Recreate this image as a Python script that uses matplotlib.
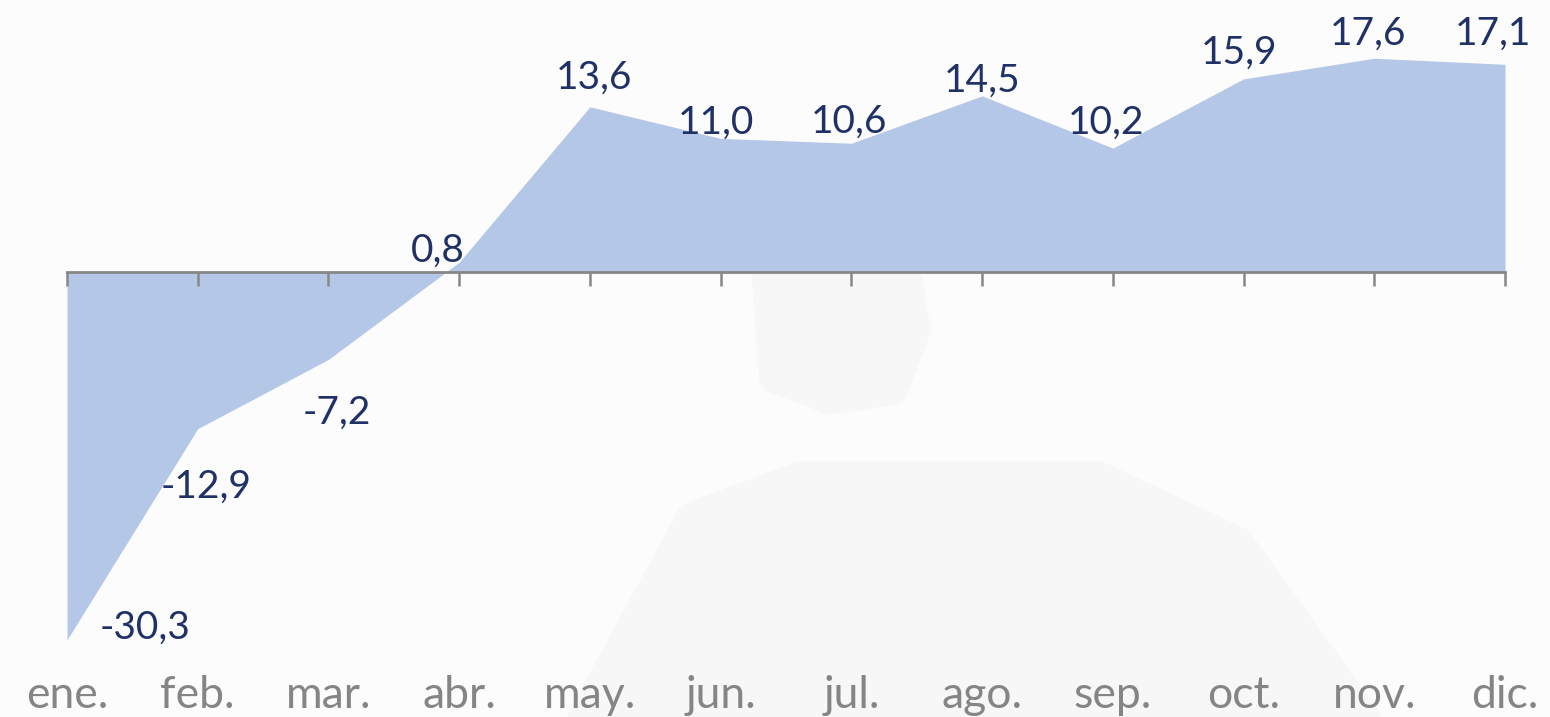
import matplotlib
matplotlib.use("Agg")
import matplotlib.pyplot as plt
from matplotlib.patches import Polygon
from matplotlib.transforms import blended_transform_factory

months = ["ene.", "feb.", "mar.", "abr.", "may.", "jun.", "jul.", "ago.", "sep.", "oct.", "nov.", "dic."]
values = [-30.3, -12.9, -7.2, 0.8, 13.6, 11.0, 10.6, 14.5, 10.2, 15.9, 17.6, 17.1]
value_labels = ["-30,3", "-12,9", "-7,2", "0,8", "13,6", "11,0", "10,6", "14,5", "10,2", "15,9", "17,6", "17,1"]

# label offsets from each point (pixels: dx, dy of label centre)
label_dx = [78, 8, 8, -21, 4, -5, -2, 0, -7, -4, -6, -12]
label_dy = [16, -54, -49, 16, 33, 20, 26, 19, 29, 30, 29, 35]

FILL = "#b4c7e7"
NAVY = "#1f3166"
GRAY = "#878787"
FONT = "Lato"

W, H = 1550, 717
fig = plt.figure(figsize=(W / 100, H / 100), dpi=100)
fig.patch.set_facecolor("#fcfcfc")

# faint decorative background shapes (image pixel coords -> display coords)
def bg_shape(pts, color):
    p = Polygon([(px, H - py) for px, py in pts], closed=True, transform=None,
                facecolor=color, edgecolor=color, lw=18, joinstyle="round", zorder=-10)
    fig.patches.append(p)

bg_shape([(580, 717), (690, 515), (800, 474), (1100, 474), (1240, 540), (1368, 717)], "#f7f7f7")
bg_shape([(762, 250), (772, 380), (830, 402), (895, 392), (918, 330), (905, 250)], "#f7f7f7")

left_px, right_px = 67, 1505
top_px, bot_px = 29.1, 660.6
ax = fig.add_axes([left_px / W, (H - bot_px) / H, (right_px - left_px) / W, (bot_px - top_px) / H])
ax.set_facecolor("none")
x = list(range(len(values)))
ax.fill_between(x, values, 0, color=FILL, lw=0, zorder=1)
ax.set_xlim(0, len(values) - 1)
ax.set_ylim(-32, 20)

for s in ["top", "right", "left"]:
    ax.spines[s].set_visible(False)
ax.spines["bottom"].set_position(("data", 0))
ax.spines["bottom"].set_color(GRAY)
ax.spines["bottom"].set_linewidth(2.0)
ax.spines["bottom"].set_zorder(3)
ax.set_yticks([])
ax.set_xticks(x)
ax.tick_params(axis="x", direction="out", length=10, width=1.8, color=GRAY, labelbottom=False)

pt = 0.72
for i, (v, lab) in enumerate(zip(values, value_labels)):
    ax.annotate(lab, (i, v), xytext=(label_dx[i] * pt, (label_dy[i] - 15) * pt),
                textcoords="offset points", ha="center", va="baseline",
                fontsize=28, color=NAVY, family=FONT, fontweight="normal", zorder=4)

trans = blended_transform_factory(ax.transData, fig.transFigure)
for i, m in enumerate(months):
    ax.text(i, 1 - 708 / H, m, transform=trans, ha="center", va="baseline",
            fontsize=32, color="#858585", family=FONT, fontweight="normal", clip_on=False)

fig.savefig("out.png", dpi=100, facecolor=fig.get_facecolor())
